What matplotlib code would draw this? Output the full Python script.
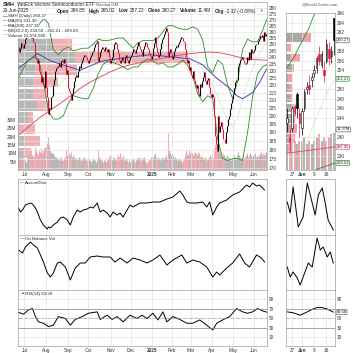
import numpy as np
import pandas as pd
import matplotlib
matplotlib.use("Agg")
import matplotlib.pyplot as plt
from matplotlib.ticker import FixedLocator, NullLocator, FuncFormatter
from matplotlib.transforms import blended_transform_factory
from matplotlib.patches import Rectangle

plt.rcParams['font.family'] = ['Liberation Sans', 'DejaVu Sans']

# ---------------- data ----------------
holidays = ['2024-07-04', '2024-09-02', '2024-11-28', '2024-12-25', '2025-01-01',
            '2025-01-09', '2025-01-20', '2025-02-17', '2025-04-18', '2025-05-26', '2025-06-19']

close = [
    248, 244, 247, 251, 249, 247,                                        # Jun 24
    250, 254, 256, 259, 261, 263, 262, 255, 257, 252, 251, 240, 239, 236, 238, 230,
    228, 222, 226, 220, 218, 230,                                        # Jul
    219, 212, 201, 205, 204, 212, 213, 220, 224, 230, 232, 233, 234, 236, 233, 237,
    238, 236, 239, 236, 228, 231,                                        # Aug
    218, 216, 215, 210, 214, 218, 223, 226, 227, 226, 230, 234, 232, 236, 238, 240,
    242, 241, 240, 238,                                                  # Sep
    236, 238, 240, 242, 244, 245, 248, 250, 251, 253, 237, 240, 244, 246, 248, 246,
    245, 248, 246, 244, 246, 240, 236,                                   # Oct
    238, 240, 246, 250, 252, 250, 246, 243, 238, 236, 238, 240, 237, 236, 240, 242,
    238, 236, 238, 240,                                                  # Nov
    242, 244, 246, 245, 243, 246, 249, 252, 249, 246, 244, 241, 246, 249, 252, 251,
    248, 246, 243, 241, 239,                                             # Dec
    241, 247, 251, 256, 248, 244, 240, 242, 246, 251, 254, 256, 258, 261, 263, 260,
    240, 244, 246, 243,                                                  # Jan 25
    239, 241, 245, 247, 249, 248, 250, 252, 254, 256, 255, 253, 252, 246, 240, 236,
    238, 231, 233,                                                       # Feb
    227, 225, 230, 224, 221, 218, 220, 215, 213, 221, 219, 223, 226, 229, 223, 221,
    224, 225, 219, 214, 212,                                             # Mar
    214, 212, 200, 188, 183, 179, 200, 190, 194, 196, 192, 186, 186, 184, 190, 194,
    198, 200, 204, 208, 211,                                             # Apr
    214, 218, 222, 224, 224, 234, 236, 238, 239, 240, 238, 236, 235, 236, 240, 238,
    244, 239, 246, 243, 244,                                             # May
    245.5, 249.5, 250.5, 250, 252.5, 254, 256.5, 256, 257.5, 253, 259.5, 256.5, 258, 260.27,
]

volume = [  # millions of shares
    9, 7, 8, 7, 6, 8,
    6, 6, 5, 7, 8, 9, 10, 12, 9, 8, 9, 14, 12, 10, 9, 12, 11, 13, 10, 12, 13, 14,
    13, 16, 20, 15, 12, 11, 10, 10, 9, 8, 8, 7, 7, 6, 7, 8, 6, 6, 7, 8, 12, 9,
    13, 10, 9, 11, 8, 9, 8, 7, 7, 6, 7, 8, 7, 6, 6, 7, 8, 7, 6, 6,
    7, 6, 6, 5, 6, 7, 6, 6, 5, 6, 12, 8, 7, 6, 6, 5, 6, 6, 5, 6, 7, 8, 9,
    7, 6, 8, 7, 7, 6, 8, 9, 8, 10, 8, 7, 9, 7, 6, 7, 6, 5, 6, 5,
    6, 6, 7, 6, 5, 6, 7, 8, 7, 8, 6, 7, 7, 8, 6, 4, 5, 6, 6, 7, 8,
    7, 8, 9, 10, 8, 7, 8, 7, 6, 7, 8, 7, 7, 8, 9, 7, 22, 12, 10, 9,
    10, 9, 7, 8, 7, 6, 6, 7, 6, 6, 5, 6, 7, 9, 12, 10, 9, 12, 10,
    11, 10, 9, 10, 11, 10, 9, 11, 10, 8, 9, 8, 7, 7, 8, 7, 6, 7, 8, 9, 8,
    7, 7, 13, 15, 16, 14, 16, 13, 11, 9, 8, 10, 9, 8, 8, 9, 8, 7, 6, 6, 7,
    8, 9, 8, 7, 9, 11, 9, 8, 7, 8, 7, 7, 8, 9, 10, 8, 9, 10, 9, 8, 9,
    9, 10, 8, 9, 8, 9, 10, 11, 9, 10, 9, 10, 11, 11.4,
]

# indicator lines (trading-day index, value)
ma50_i = [0, 19, 32, 49, 62, 82, 92, 115, 132, 152, 172, 185, 199, 212, 219, 225, 235, 242, 249]
ma50_v = [232, 243, 237.5, 233.4, 230.6, 236.8, 238.3, 240.5, 242, 240.5, 239, 234.5, 224.9,
          218.1, 213, 211, 215, 222, 231.3]
ma200_i = [0, 12, 22, 32, 42, 52, 62, 72, 82, 92, 102, 112, 122, 132, 142, 152, 162, 172,
           182, 192, 202, 212, 222, 232, 249]
ma200_v = [188.4, 194.3, 199.2, 203.6, 208, 212.6, 217.9, 222.2, 225.8, 229.4, 232.3, 234.5,
           236.1, 237.5, 239, 240.5, 241.8, 242.8, 243.6, 244, 243.5, 242, 240, 238.5, 237.95]
bb_i = list(range(0, 250, 5)) + [249]
bb_mid = [245, 247, 250, 252, 252, 247, 235, 222, 220, 223, 228, 229, 229, 229, 229, 234, 241,
          244, 245, 245, 245, 244, 241, 240, 242, 245, 246, 245, 245, 248, 249, 249, 249, 250,
          248, 245, 238, 231, 223, 220, 212, 205, 197, 193, 199, 210, 222, 232, 240, 247, 252.21]
bb_up = [265, 262, 262, 264, 265, 271, 267, 246, 242, 246, 248, 245, 246, 247, 247, 250, 254,
         253, 253, 254, 255, 255, 251, 247, 251, 253, 253, 253, 255, 260, 265, 265, 263, 262,
         262, 264, 262, 253, 233, 229, 238, 235, 220, 211, 223, 246, 254, 252, 252, 261, 269.83]
bb_lo = [225, 232, 238, 240, 239, 223, 203, 198, 198, 200, 208, 213, 212, 211, 211, 218, 228,
         235, 237, 236, 235, 233, 231, 233, 233, 237, 239, 237, 235, 236, 233, 233, 235, 238,
         234, 226, 214, 209, 213, 211, 186, 175, 174, 175, 175, 174, 190, 212, 228, 233, 234.59]

# volume-by-price zones (price edges) and up / down volume per zone (M)
vbp_edges = [254.9, 244.4, 235.3, 226.4, 218.0, 210.3, 202.8, 195.4, 188.3, 181.4, 174.8, 169.5]
vbp_up = [350, 570, 170, 150, 150, 190, 100, 0, 70, 50, 30]
vbp_dn = [190, 1130, 420, 250, 140, 130, 50, 170, 150, 80, 40]

ad_i = [0, 2, 4, 7, 12, 14, 17, 19, 22, 25, 29, 30, 32, 35, 39, 42, 45, 49, 52, 55, 59, 62,
        65, 69, 72, 75, 79, 82, 85, 89, 92, 95, 99, 102, 105, 109, 112, 115, 122, 129, 135,
        142, 149, 155, 162, 165, 169, 172, 179, 185, 189, 192, 195, 199, 202, 209, 215, 222,
        229, 232, 235, 239, 242, 245, 247]
ad_v = [27, 23, 25, 30, 32, 31, 27, 23, 15, 10, 6, 8, 7, 10, 13, 17, 18, 15, 10, 18, 25, 23,
        25, 26, 28, 27, 32, 23, 25, 22, 18, 23, 20, 22, 18, 25, 30, 28, 32, 32, 33, 33, 36, 38,
        44, 40, 33, 32, 32, 33, 28, 33, 20, 28, 32, 35, 40, 43, 50, 48, 52, 49, 50, 47, 45]
obv_i = [0, 4, 7, 12, 15, 19, 22, 25, 29, 32, 35, 39, 42, 47, 52, 57, 62, 67, 72, 79, 85, 92,
         97, 102, 109, 115, 122, 129, 135, 142, 149, 155, 164, 169, 175, 182, 189, 195, 199,
         202, 209, 215, 222, 227, 232, 239, 244, 247]
obv_v = [40, 37, 43, 48, 45, 42, 35, 28, 17, 13, 17, 27, 28, 23, 10, 22, 27, 27, 33, 34, 33,
         33, 28, 32, 27, 32, 30, 27, 30, 35, 25, 30, 35, 27, 30, 28, 23, 13, 18, 15, 22, 27,
         36, 27, 23, 35, 32, 28]
rsi_i = [0, 5, 10, 14, 17, 20, 25, 30, 35, 40, 47, 52, 57, 64, 70, 79, 82, 89, 94, 99, 105,
         112, 119, 124, 129, 135, 140, 145, 149, 155, 162, 169, 175, 182, 189, 195, 199, 205,
         212, 219, 225, 230, 235, 240, 245, 249]
rsi_v = [63, 59, 68, 71, 54, 43, 40, 33, 36, 54, 50, 36, 48, 54, 61, 64, 48, 57, 48, 54, 43,
         57, 50, 57, 50, 61, 47, 64, 43, 54, 48, 40, 40, 47, 36, 26, 40, 47, 54, 71, 64, 61,
         64, 71, 66, 63.5]

# right-hand one-month daily panel
z_open = [243, 240, 242, 246.5, 249, 245, 242, 246, 250, 251, 252, 253.5, 254.5, 257.5, 255,
          254, 256, 258.5, 257, 264.85]
z_high = [246, 242, 246.5, 247, 249.5, 246, 246, 250, 251.5, 253, 253.5, 255, 257, 259, 258,
          256, 260.5, 260, 259, 265.02]
z_low = [241, 237, 241, 244.5, 244, 240, 240.5, 245.5, 249, 249, 250.5, 252.5, 253.5, 255,
         254.5, 251.5, 255.5, 255, 255.5, 257.22]
z_close = [244, 239, 246, 245, 246, 243, 245.5, 249.5, 250.5, 250, 252.5, 254, 256.5, 256,
           257.5, 253, 259.5, 256.5, 258, 260.27]
z_ticks = [2, 6, 11, 16]
z_labels = ['27', 'Jun', '9', '16']
z_price_ticks = [236, 240, 244, 246, 248, 250, 254, 256, 258, 262, 264, 266]
z_bbup_i = [0, 3, 6, 9, 12]
z_bbup_v = [254.5, 257, 260, 263, 267]
z_bbmid_i = [5, 8, 11, 14, 17, 19.5]
z_bbmid_v = [235, 239, 243, 246.5, 250, 252.21]
z_bblo_i = [11, 14, 17, 19.5]
z_bblo_v = [233, 233.6, 234.1, 234.59]
z_ma200_i = [-0.5, 19.5]
z_ma200_v = [236.6, 237.95]
z_vbp_edges = [264.5, 262, 259.7, 257.6, 255.5, 253.4, 251.3, 249.2, 247.1, 245, 242.9, 240.8,
               238.7, 236.6]
z_vbp_up = [0, 160, 0, 40, 60, 20, 30, 40, 50, 60, 40, 30, 20]
z_vbp_dn = [0, 90, 50, 100, 20, 40, 30, 20, 30, 30, 70, 60, 30]
z_ad_i = [0, 1.2, 2.4, 4.5, 6.5, 8.2, 10.2, 11.4, 12.7, 14.3, 15.5, 16.7, 18.8]
z_ad_v = [33, 22, 48, 8, 18, 52, 32, 20, 40, 47, 32, 15, 5]
z_obv_i = [0, 1.2, 2.4, 4.1, 5.3, 6.5, 8.6, 10.2, 12.2, 13.5, 14.7, 16.3, 17.6, 18.8]
z_obv_v = [23, 13, 18, 12, 5, 13, 27, 23, 52, 40, 43, 33, 38, 27]
z_rsi_i = [0, 2.4, 5.3, 8.2, 10.6, 12.2, 14.3, 16.3, 18.8]
z_rsi_v = [64, 62, 57, 64, 70, 73, 73, 70, 63.5]

# ---------------- layout ----------------
W = H = 353
RED = '#e8173d'
PINK = '#f2a7ae'
GRAY = '#b5b5b5'
GRID = '#e3e3e3'
FS = 3.4

dates = pd.bdate_range('2024-06-21', '2025-06-20')
dates = dates[~dates.isin(pd.to_datetime(holidays))]
n = len(close)
dates = dates[-n:]
month_pos = [i for i in range(1, n) if dates[i].month != dates[i - 1].month]
month_lab = ['2025' if dates[i].month == 1 else dates[i].strftime('%b') for i in month_pos]

fig = plt.figure(figsize=(W / 100, H / 100), dpi=100)
renderer = fig.canvas.get_renderer()


def pax(x0, y0, x1, y1, z=2):
    a = fig.add_axes([x0 / W, 1 - y1 / H, (x1 - x0) / W, (y1 - y0) / H], zorder=z)
    for s in a.spines.values():
        s.set_color('#a0a0a0')
        s.set_linewidth(0.5)
    a.tick_params(length=0, labelsize=FS, pad=1.2, colors='#333333')
    return a


def month_grid(a, labels=False):
    a.set_xlim(-0.5, n - 0.5)
    a.xaxis.set_major_locator(FixedLocator(month_pos))
    if labels:
        a.set_xticklabels(month_lab)
        for t in a.get_xticklabels():
            if t.get_text() == '2025':
                t.set_fontweight('bold')
    else:
        a.set_xticklabels([])
    a.grid(color=GRID, lw=0.5)
    a.set_axisbelow(True)


def ftext(x, y, s, **kw):
    kw.setdefault('fontsize', FS)
    kw.setdefault('va', 'center')
    kw.setdefault('color', '#222222')
    return fig.text(x / W, 1 - y / H, s, **kw)


def chain(x, y, pieces):
    # place text pieces one after another, measured in pixels
    for s, kw, gap in pieces:
        t = ftext(x, y, s, **kw)
        x = t.get_window_extent(renderer).x1 + gap


# ---- main price panel ----
base = pax(18, 2, 267, 170, z=1)
ax = pax(18, 2, 267, 170, z=2)
ax.patch.set_visible(False)
ax.set_yscale('log')
ax.set_ylim(168.9, 285.3)
ax.yaxis.set_major_locator(FixedLocator(list(range(170, 285, 5))))
ax.yaxis.set_minor_locator(NullLocator())
ax.yaxis.set_major_formatter(FuncFormatter(lambda v, _: f'{int(v)}'))
ax.yaxis.tick_right()
month_grid(ax, labels=True)

base.set_xlim(-0.5, n - 0.5)
base.set_ylim(0, 100.8)
base.set_xticks([])
base.yaxis.set_major_locator(FixedLocator([5, 10, 15, 20, 25, 30]))
base.set_yticklabels(['5M', '10M', '15M', '20M', '25M', '30M'])
for s in base.spines.values():
    s.set_visible(False)

prev = [close[0]] + close[:-1]
down = [c < p for c, p in zip(close, prev)]
xs = np.arange(n)
base.vlines(xs, 0, volume, colors=[PINK if d else GRAY for d in down], lw=0.7)

vbp_tr = blended_transform_factory(base.transAxes, ax.transData)
vbp_full = 2490.0
for k in range(len(vbp_up)):
    hi, lo = vbp_edges[k], vbp_edges[k + 1]
    pad = (hi - lo) * 0.06
    base.add_patch(Rectangle((0, lo + pad), vbp_up[k] / vbp_full, hi - lo - 2 * pad,
                             transform=vbp_tr, color='#b8b8b8', lw=0))
    base.add_patch(Rectangle((vbp_up[k] / vbp_full, lo + pad), vbp_dn[k] / vbp_full,
                             hi - lo - 2 * pad, transform=vbp_tr, color='#f0b0b4', lw=0))

ax.plot(ma200_i, ma200_v, color='#e8526a', lw=0.7)
ax.plot(ma50_i, ma50_v, color='#4646b4', lw=0.7)
ax.plot(bb_i, bb_up, color='#2e8b2e', lw=0.6)
ax.plot(bb_i, bb_lo, color='#2e8b2e', lw=0.6)
ax.plot(bb_i, bb_mid, color='#7ccf7c', lw=0.4, ls=(0, (1, 1)))
lo_c = [min(c, p) for c, p in zip(close, prev)]
hi_c = [max(c, p) for c, p in zip(close, prev)]
ax.vlines(xs, lo_c, hi_c, colors=[RED if d else 'black' for d in down], lw=0.8)

# header and legend
chain(3, 5, [('SMH', dict(fontweight='bold', fontsize=3.8), 2),
             ('VanEck Vectors Semiconductor ETF', {}, 2),
             ('Nasdaq GM', dict(fontsize=3.0, color='#555555'), 0)])
ftext(3, 11, '20-Jun-2025')
row = []
for key, val in [('Open', '264.85'), ('High', '265.02'), ('Low', '257.22'),
                 ('Close', '260.27'), ('Volume', '11.4M'), ('Chg', '-2.32 (-0.88%)')]:
    row.append((key, dict(fontweight='bold'), 1.2))
    row.append((val, {}, 3.5))
row.append(('\u25bc', dict(color=RED, fontsize=2.6), 0))
chain(57, 11, row)
ftext(302, 4, '@StockCharts.com', fontsize=3.1, color='#555555')
legend = [('SMH (Daily) 260.27', 'black'), ('MA(50) 231.30', '#4646b4'),
          ('MA(200) 237.95', '#e8526a'), ('BB(20,2.0) 234.59 - 252.21 - 269.83', '#2e8b2e'),
          ('Volume 11,374,580', '#888888')]
for k, (txt, col) in enumerate(legend):
    y = 16.5 + k * 4.7
    ftext(3, y, '\u2014', color=col, zorder=5)
    ftext(8, y, txt, fontsize=3.2, zorder=5,
          bbox=dict(boxstyle='square,pad=0.1', fc='white', ec='none'))

# ---- right one-month panel ----
rbase = pax(286, 13, 335, 170, z=1)
rax = pax(286, 13, 335, 170, z=2)
rax.patch.set_visible(False)
nz = len(z_close)
for a in (rbase, rax):
    a.set_xlim(-0.5, nz - 0.5)
rax.set_ylim(233.1, 266)
rax.set_yticks(z_price_ticks)
rax.yaxis.tick_right()
rax.set_xticks(z_ticks)
rax.set_xticklabels(z_labels)
rax.get_xticklabels()[1].set_fontweight('bold')
rax.grid(color=GRID, lw=0.5)
rbase.set_ylim(0, 48)
rbase.set_xticks([])
rbase.set_yticks([])
for s in rbase.spines.values():
    s.set_visible(False)
z_prev = [z_close[0]] + z_close[:-1]
z_down = [c < p for c, p in zip(z_close, z_prev)]
rbase.bar(np.arange(nz), volume[-nz:], width=0.8,
          color=[PINK if d else GRAY for d in z_down], lw=0)
ztr = blended_transform_factory(rbase.transAxes, rax.transData)
for k in range(len(z_vbp_up)):
    hi, lo = z_vbp_edges[k], z_vbp_edges[k + 1]
    rbase.add_patch(Rectangle((0, lo + 0.15), z_vbp_up[k] / 490, hi - lo - 0.3,
                              transform=ztr, color='#a8a8a8', lw=0))
    rbase.add_patch(Rectangle((z_vbp_up[k] / 490, lo + 0.15), z_vbp_dn[k] / 490,
                              hi - lo - 0.3, transform=ztr, color='#f0a0a8', lw=0))
rax.plot(z_ma200_i, z_ma200_v, color='#e8526a', lw=0.7)
rax.plot(z_bbup_i, z_bbup_v, color='#2e8b2e', lw=0.6)
rax.plot(z_bblo_i, z_bblo_v, color='#2e8b2e', lw=0.6)
rax.plot(z_bbmid_i, z_bbmid_v, color='#7ccf7c', lw=0.4, ls=(0, (1, 1)))
for k in range(nz):
    col = RED if z_down[k] else 'black'
    rax.vlines(k, z_low[k], z_high[k], color=col, lw=0.5)
    b0, b1 = sorted([z_open[k], z_close[k]])
    hollow = z_close[k] > z_open[k]
    rax.add_patch(Rectangle((k - 0.32, b0), 0.64, max(b1 - b0, 0.15),
                            facecolor='white' if hollow else col, edgecolor=col, lw=0.4,
                            zorder=3))
ztr2 = blended_transform_factory(rax.transAxes, rax.transData)
for val, txt, col in [(260.27, '260.27', '#666666'), (252.21, '252.21', '#2e8b2e'),
                      (241.6, '11.37M', '#666666'), (237.95, '237.95', '#e8526a'),
                      (234.59, '234.59', '#2e8b2e')]:
    rax.text(1.03, val, txt, transform=ztr2, fontsize=3.0, va='center', ha='left',
             color='#222222', bbox=dict(boxstyle='round,pad=0.1', fc='white', ec=col, lw=0.5))


# ---- lower indicator panels ----
def lower(y0, y1, xi, xv, zi, zv, ylim, label, labels=False, mark='\u2014'):
    a = pax(18, y0, 267, y1)
    month_grid(a, labels=labels)
    a.set_ylim(*ylim)
    a.plot(xi, xv, color='black', lw=0.7)
    b = pax(286, y0, 335, y1)
    b.set_xlim(-0.5, nz - 0.5)
    b.set_ylim(*ylim)
    b.set_xticks(z_ticks)
    b.grid(color=GRID, lw=0.5)
    b.plot(zi, zv, color='black', lw=0.7)
    if labels:
        b.set_xticklabels(z_labels)
        b.get_xticklabels()[1].set_fontweight('bold')
    else:
        b.set_xticklabels([])
    ftext(20, y0 + 3.5, mark, color='#2e8b2e' if mark != '\u2014' else '#222222',
          fontsize=3.0)
    ftext(25, y0 + 3.5, label, fontsize=3.2)
    return a, b


a1, b1 = lower(179, 235, ad_i, ad_v, z_ad_i, z_ad_v, (0, 56), 'Accum/Dist')
a1.set_yticks([])
b1.set_yticks([])
a2, b2 = lower(235, 290, obv_i, obv_v, z_obv_i, z_obv_v, (0, 55), 'On Balance Vol')
a2.set_yticks([])
b2.set_yticks([])
a3, b3 = lower(290, 346, rsi_i, rsi_v, z_rsi_i, z_rsi_v, (-7.9, 110), 'RSI(14) 63.50',
               labels=True, mark='\u25b2')
for a in (a3, b3):
    a.yaxis.tick_right()
    a.axhline(70, color='#888888', lw=0.5)
    a.axhline(30, color='#888888', lw=0.5)
    a.axhline(50, color='#999999', lw=0.4, ls='-.')
a3.set_yticks([10, 30, 50, 70, 90])
b3.set_yticks([10, 30, 50, 90])
b3.text(1.03, 63.5, '63.50', transform=blended_transform_factory(b3.transAxes, b3.transData),
        fontsize=3.0, va='center', ha='left',
        bbox=dict(boxstyle='round,pad=0.1', fc='white', ec='#666666', lw=0.5))

fig.savefig('out.png', dpi=100)
